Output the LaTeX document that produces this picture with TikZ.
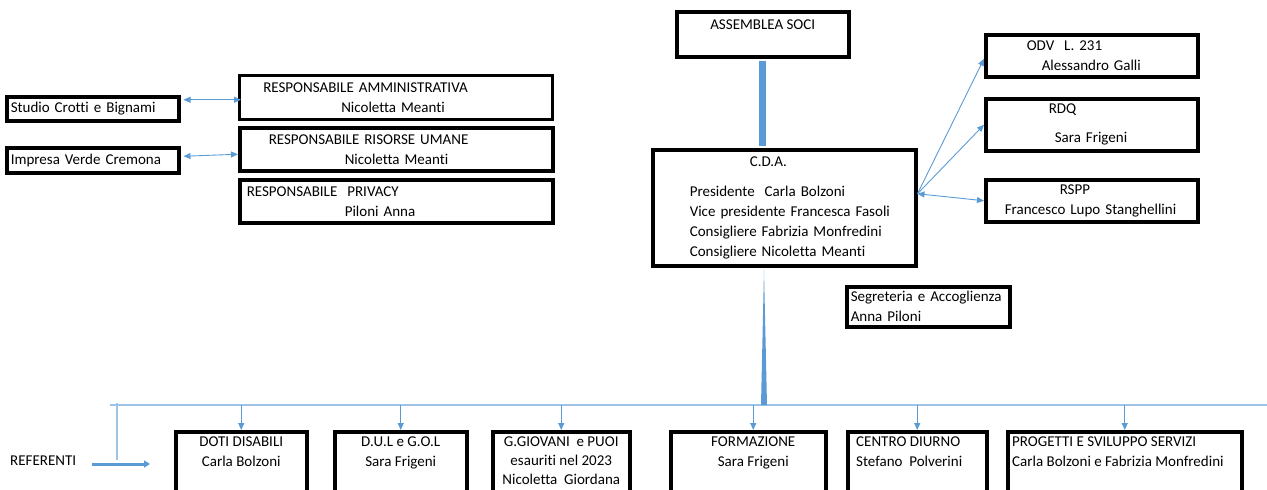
\documentclass[tikz,border=0pt]{standalone}
\usepackage{fontspec}
\setmainfont{Carlito}[Ligatures=NoCommon]
\usetikzlibrary{positioning, arrows.meta}
\definecolor{linkblue}{HTML}{5B9BD5}
\definecolor{busblue}{HTML}{9DC3E6}
\tikzset{
	box/.style = {draw=black, line width=3.5pt, rectangle, anchor=north west, inner xsep=4pt, inner ysep=0pt, align=left},
	unit/.style = {draw=black, line width=3.5pt, rectangle, anchor=north west, minimum height=80pt},
	unittxt/.style = {inner sep=0pt, anchor=north},
	link/.style = {draw=linkblue, line width=0.9pt, -{Triangle[length=7pt, width=6pt]}},
	bus/.style = {draw=busblue, line width=1.2pt}
}

\begin{document}
\begin{tikzpicture}[x=1pt, y=-1pt, font=\fontsize{15}{20}\selectfont]
	\useasboundingbox (0,0) rectangle (1267,490);
	\clip (0,0) rectangle (1267,490);

	%top
	\node[box, align=center, minimum width=172pt, minimum height=45pt] (soci) at (675,10) {ASSEMBLEA SOCI\\ \mbox{}};
	\node[box, text width=255pt, minimum height=116pt] (cda) at (651,148) {\hspace*{93pt}C.D.A.\\[10pt] \hspace*{33pt}Presidente\ \ Carla Bolzoni\\ \hspace*{33pt}Vice presidente Francesca Fasoli\\ \hspace*{33pt}Consigliere Fabrizia Monfredini\\ \hspace*{33pt}Consigliere Nicoletta Meanti};

	%left
	\node[box, text width=164pt, minimum height=24pt] (studio) at (5,95) {Studio Crotti e Bignami};
	\node[box, text width=164pt, minimum height=25pt] (impresa) at (5,146) {Impresa Verde Cremona};
	\node[box, line width=2.5pt, text width=305pt, minimum height=44pt] (amm) at (238,74) {\hspace*{20pt}RESPONSABILE AMMINISTRATIVA\\ \hspace*{98pt}Nicoletta Meanti};
	\node[box, text width=305pt, minimum height=43pt] (umane) at (238,126) {\hspace*{25pt}RESPONSABILE RISORSE UMANE\\ \hspace*{101pt}Nicoletta Meanti};
	\node[box, text width=305pt, minimum height=43pt] (privacy) at (238,178) {\hspace*{3pt}RESPONSABILE\ \ PRIVACY\\ \hspace*{101pt}Piloni Anna};

	%right
	\node[box, text width=204pt, minimum height=42pt] (odv) at (984,33) {\hspace*{37pt}ODV\ \ L. 231\\ \hspace*{52pt}Alessandro Galli};
	\node[box, text width=204pt, minimum height=52pt] (rdq) at (984,97) {\hspace*{59pt}RDQ\\[9pt] \hspace*{65pt}Sara Frigeni};
	\node[box, text width=204pt, minimum height=42pt] (rspp) at (984,178) {\hspace*{70pt}RSPP\\ \hspace*{15pt}Francesco Lupo Stanghellini};
	\node[box, text width=155pt, minimum height=40pt] (segreteria) at (845,285) {Segreteria e Accoglienza\\ Anna Piloni};

	%referenti
	\node[anchor=west, inner sep=0pt] (referenti) at (10,461) {REFERENTI};
	\node[unit, minimum width=131pt] (doti) at (174,430) {};
	\node[unit, minimum width=132pt] (dul) at (333,430) {};
	\node[unit, minimum width=137pt] (giovani) at (491,430) {};
	\node[unit, minimum width=155pt] (formazione) at (669,430) {};
	\node[unit, minimum width=139pt] (diurno) at (846,430) {};
	\node[unit, minimum width=234pt] (progetti) at (1006,430) {};
	\node[unittxt, align=center, below=7pt of doti.north] {DOTI DISABILI\\ Carla Bolzoni};
	\node[unittxt, align=center, below=7pt of dul.north] {D.U.L e G.O.L\\ Sara Frigeni};
	\node[unittxt, align=center, below=7pt of giovani.north, font=\fontsize{15}{19}\selectfont] {G.GIOVANI\ \ e PUOI\\ esauriti nel 2023\\ Nicoletta\ \ Giordana};
	\node[unittxt, align=center, below=7pt of formazione.north, xshift=5pt] {FORMAZIONE\\ Sara Frigeni};
	\node[unittxt, align=left, below right=7pt and 10pt of diurno.north west] {CENTRO DIURNO\\ Stefano\ \ Polverini};
	\node[unittxt, align=left, below right=7pt and 6pt of progetti.north west] {PROGETTI E SVILUPPO SERVIZI\\ Carla Bolzoni e Fabrizia Monfredini};

	%connectors
	\draw[linkblue, line width=7pt, shorten <=2pt, shorten >=2pt] (soci.south) -- (soci.south |- cda.north);
	\coordinate (hub) at ([yshift=14pt]cda.east);
	\draw[link] (hub) -- ([yshift=-3pt]odv.west);
	\draw[link] (hub) -- (rdq.west);
	\draw[link, {Triangle[length=7pt, width=6pt]}-{Triangle[length=7pt, width=6pt]}] (hub) -- (rspp.west);
	\draw[link, {Triangle[length=7pt, width=6pt]}-{Triangle[length=7pt, width=6pt]}] ([xshift=3pt, yshift=9pt]studio.east) -- ([xshift=3pt, yshift=9pt]studio.east -| amm.west);
	\draw[link, {Triangle[length=7pt, width=6pt]}-{Triangle[length=7pt, width=6pt]}] ([xshift=3pt, yshift=4pt]impresa.east) -- ([yshift=-5pt]umane.west);

	\coordinate (busL) at (110,405);
	\coordinate (busR) at (1267,405);
	\coordinate (stem) at (764,270);
	\draw[bus] (busL) -- (busR);
	\fill[linkblue] (stem) -- ([xshift=3pt]stem |- busL) -- ([xshift=-3pt]stem |- busL) -- cycle;
	\draw[bus] (117,403) -- (117,460);
	\draw[linkblue, line width=3pt, -{Triangle[length=6pt, width=7pt]}] ([xshift=16pt, yshift=-3pt]referenti.east) -- ([xshift=-24pt, yshift=-3pt]referenti.east -| doti.west);
	\foreach \unitname in {doti, dul, giovani, diurno, progetti}
		\draw[link] (\unitname.north |- busL) -- (\unitname.north);
	\draw[link] ([xshift=5pt]formazione.north |- busL) -- ([xshift=5pt]formazione.north);
\end{tikzpicture}
\end{document}
